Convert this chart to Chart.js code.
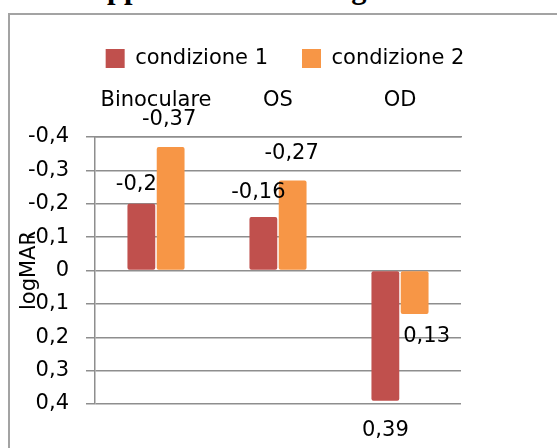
<!DOCTYPE html>
<html>
<head>
<meta charset="utf-8">
<script src="https://cdn.jsdelivr.net/npm/chart.js@4.4.1/dist/chart.umd.min.js"></script>
<style>
  html, body { margin: 0; padding: 0; background: #fff; overflow: hidden; }
  body { width: 557px; height: 448px; position: relative; }
  .testo { position: absolute; left: 11px; top: -27px; font: bold 30.6px/30px "Liberation Serif", serif; white-space: nowrap; color: #000; }
  .cornice { position: absolute; left: 8px; top: 13px; width: 600px; height: 500px; border-left: 2px solid #a3a3a3; border-top: 2px solid #a3a3a3; }
  #grafico { position: absolute; left: 0; top: 0; }
</style>
</head>
<body>
<div class="testo">sono rappresentati nella figura 3.</div>
<div class="cornice"></div>
<canvas id="grafico" width="557" height="448"></canvas>
<script>
const categorie = ['Binoculare', 'OS', 'OD'];
const condizione1 = [-0.2, -0.16, 0.39];
const condizione2 = [-0.37, -0.27, 0.13];
const tickLogMAR = [-0.4, -0.3, -0.2, -0.1, 0, 0.1, 0.2, 0.3, 0.4];

const FONT = '"DejaVu Sans", sans-serif';
const SIZE = 21;
const GRIGIO = '#8e8e8e';

// numeri con la virgola decimale
const formatta = v => Math.abs(v) < 1e-9 ? '0' : String(+v.toFixed(2)).replace('.', ',');

// etichette dei valori all'estremità esterna delle barre
const etichetteValori = {
  id: 'etichetteValori',
  afterDatasetsDraw(chart, args, opts) {
    const ctx = chart.ctx;
    ctx.save();
    ctx.font = SIZE + 'px ' + FONT;
    ctx.fillStyle = '#000';
    ctx.textAlign = 'center';
    ctx.textBaseline = 'middle';
    chart.data.datasets.forEach((ds, i) => {
      chart.getDatasetMeta(i).data.forEach((bar, j) => {
        const v = ds.data[j];
        const [dx, dy] = opts.spostamenti[i][j];
        const dir = v < 0 ? -1 : 1;
        ctx.fillText(formatta(v), bar.x + dx, bar.y + dir * dy);
      });
    });
    ctx.restore();
  }
};

// titolo dell'asse verticale, sopra le etichette
const titoloAsse = {
  id: 'titoloAsse',
  afterDraw(chart) {
    const ctx = chart.ctx;
    const area = chart.chartArea;
    ctx.save();
    ctx.translate(30, (area.top + area.bottom) / 2);
    ctx.rotate(-Math.PI / 2);
    ctx.font = SIZE + 'px ' + FONT;
    ctx.fillStyle = '#000';
    ctx.textAlign = 'center';
    ctx.textBaseline = 'middle';
    ctx.fillText('logMAR', 0, 0);
    ctx.restore();
  }
};

new Chart(document.getElementById('grafico').getContext('2d'), {
  type: 'bar',
  data: {
    labels: categorie,
    datasets: [
      { label: 'condizione 1', data: condizione1, backgroundColor: '#C0504D' },
      { label: 'condizione 2', data: condizione2, backgroundColor: '#F79646' }
    ]
  },
  options: {
    responsive: false,
    animation: false,
    devicePixelRatio: 1,
    layout: { padding: { top: 14, left: 13, right: 0, bottom: 44 } },
    datasets: {
      bar: { categoryPercentage: 0.48, barPercentage: 0.95, borderRadius: 2, borderSkipped: false }
    },
    scales: {
      x: {
        position: 'top',
        grid: { display: false, drawTicks: false },
        border: { display: true, color: GRIGIO, width: 1.5 },
        ticks: { color: '#000', font: { family: FONT, size: SIZE }, padding: 24 },
        afterFit: s => { s.height = 58; }
      },
      y: {
        min: -0.4,
        max: 0.4,
        reverse: true,
        afterBuildTicks: s => { s.ticks = tickLogMAR.map(v => ({ value: v })); },
        grid: { color: GRIGIO, lineWidth: 1.5, tickLength: 9 },
        border: { display: true, color: GRIGIO, width: 1.5 },
        ticks: { color: '#000', font: { family: FONT, size: SIZE }, padding: 17, callback: v => formatta(v) },
        afterFit: s => { s.width = 82; }
      },
      margine: {
        position: 'right',
        grid: { display: false },
        border: { display: false },
        ticks: { display: false },
        afterFit: s => { s.width = 96; }
      }
    },
    plugins: {
      legend: {
        position: 'top',
        labels: {
          color: '#000',
          font: { family: FONT, size: SIZE },
          boxWidth: 19,
          boxHeight: 19,
          padding: 34
        }
      },
      tooltip: { enabled: false },
      etichetteValori: {
        spostamenti: [
          [[-5, 19], [-5, 25], [0, 30]],
          [[-1.5, 27], [-1, 27], [12, 23]]
        ]
      }
    }
  },
  plugins: [etichetteValori, titoloAsse]
});
</script>
</body>
</html>
